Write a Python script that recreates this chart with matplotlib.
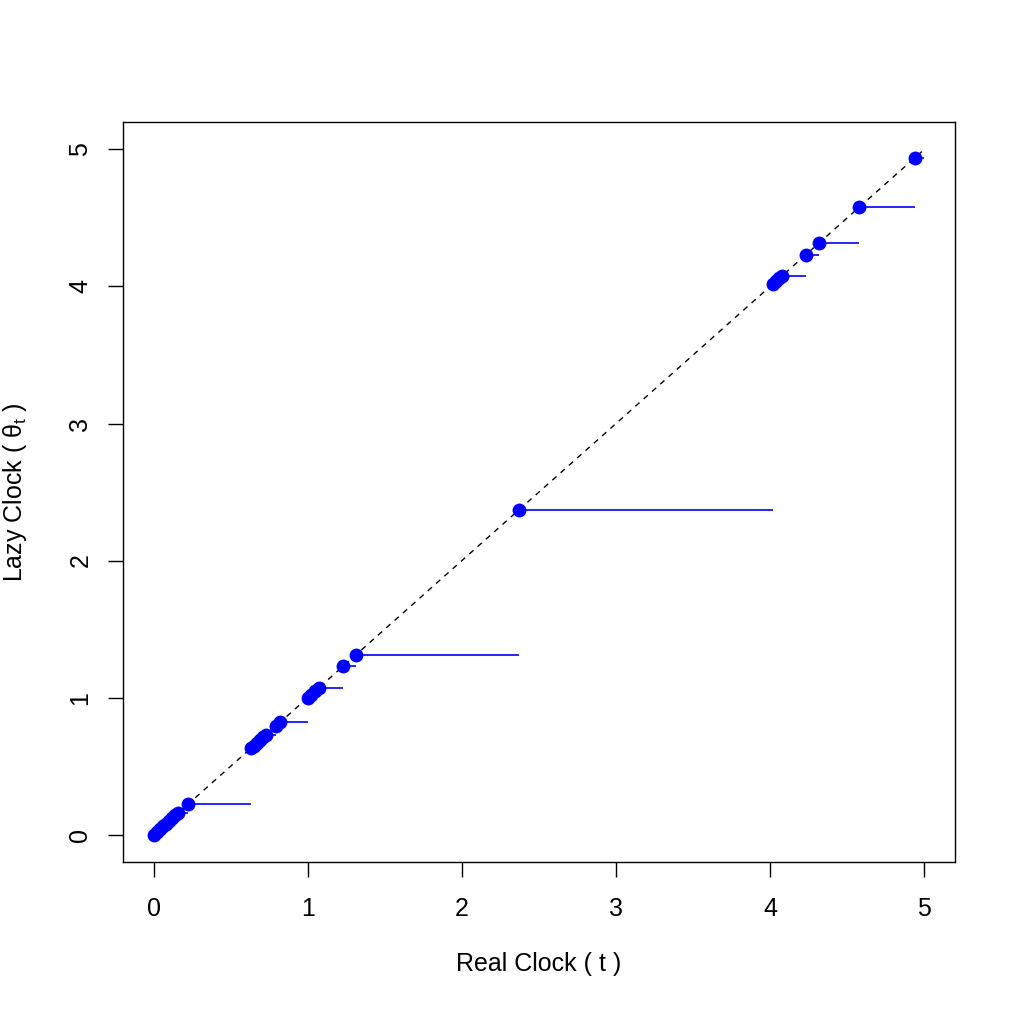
import matplotlib
matplotlib.use('Agg')
import matplotlib.pyplot as plt
import numpy as np

plt.rcParams['font.family'] = ['Liberation Sans', 'DejaVu Sans']
plt.rcParams['mathtext.fontset'] = 'custom'
plt.rcParams['mathtext.rm'] = 'Liberation Sans'
plt.rcParams['mathtext.it'] = 'Liberation Sans'

# event times on the real clock (lazy clock jumps to these values)
times = [0.0, 0.02, 0.04, 0.06, 0.08, 0.10, 0.12, 0.14, 0.16, 0.22,
         0.63, 0.65, 0.67, 0.69, 0.71, 0.73, 0.79, 0.82,
         1.00, 1.02, 1.045, 1.07, 1.23, 1.31, 2.37,
         4.02, 4.04, 4.06, 4.08, 4.23, 4.32, 4.58, 4.94]
t_end = 5.0

ticks = [0, 1, 2, 3, 4, 5]

fig = plt.figure(figsize=(10.19, 10.17), dpi=100)
ax = fig.add_axes([0.1207, 0.1524, 0.8165, 0.7276])

# identity line
ax.plot([0, t_end], [0, t_end], color='black', linestyle=(0, (4, 4)), linewidth=1.0)

# horizontal steps: lazy clock holds value until next event
starts = np.array(times)
ends = np.append(starts[1:], t_end)
ax.hlines(starts, starts, ends, color='#0000ff', linewidth=1.2)
ax.plot(starts, starts, 'o', color='#0000ff', markersize=10, markeredgewidth=0)

ax.set_xlim(-0.2, 5.2)
ax.set_ylim(-0.2, 5.2)
ax.set_xticks(ticks)
ax.set_yticks(ticks)
ax.tick_params(direction='out', length=11, width=1, labelsize=18)
ax.tick_params(axis='x', pad=14)
ax.tick_params(axis='y', pad=11)
for lab in ax.get_yticklabels():
    lab.set_rotation(90)
    lab.set_va('center')
for s in ax.spines.values():
    s.set_linewidth(1.0)

ax.set_xlabel('Real Clock ( t )', fontsize=18)
ax.set_ylabel(r'Lazy Clock ( $\theta_t$ )', fontsize=18)
ax.xaxis.set_label_coords(0.5, -(964 - 862) / 740, transform=ax.transAxes)
ax.yaxis.set_label_coords(-(123 - 15) / 832, 0.5, transform=ax.transAxes)
ax.xaxis.label.set_va('center')
ax.yaxis.label.set_va('center')

fig.savefig('out.png', dpi=100)
